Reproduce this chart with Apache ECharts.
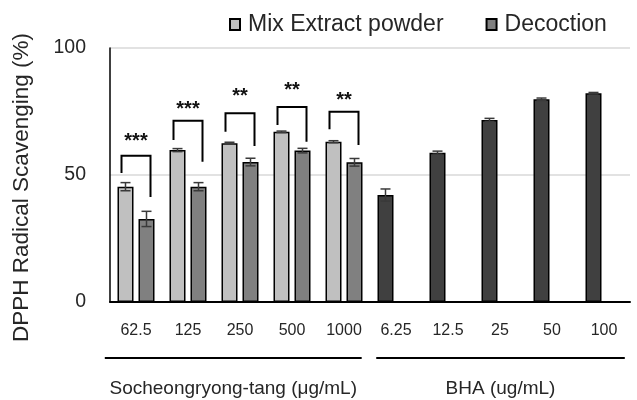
<!DOCTYPE html>
<html>
<head>
<meta charset="utf-8">
<script src="https://cdn.jsdelivr.net/npm/echarts@6/dist/echarts.min.js"></script>
<style>
html,body{margin:0;padding:0;background:#fff;}
#chart{width:637px;height:400px;}
</style>
</head>
<body>
<div id="chart"></div>
<script>
// ---- data ----
const categories = ['62.5', '125', '250', '500', '1000', '6.25', '12.5', '25', '50', '100'];
const mixValues = [45.4, 59.8, 62.5, 67.0, 63.1];
const mixErr = [1.6, 0.6, 0.4, 0.3, 0.4];
const decValues = [32.7, 45.4, 55.1, 59.6, 55.0];
const decErr = [3.0, 1.6, 1.5, 0.9, 1.5];
const bhaValues = [42.1, 58.8, 71.7, 79.8, 82.2];
const bhaErr = [2.4, 0.6, 0.6, 0.5, 0.3];
const yTicks = [0, 50, 100];
// significance brackets (values in % units)
const sigCats = [0, 1, 2, 3, 4];
const sigTop = [57.6, 71.4, 74.3, 76.8, 74.9];
const sigLeftEnd = [50.8, 63.8, 67.0, 69.7, 68.0];
const sigRightEnd = [41.3, 55.2, 61.4, 63.1, 61.8];
const sigStarY = [65.0, 77.8, 83.0, 85.4, 81.5];
const sigLabels = ['***', '***', '**', '**', '**'];
// category groups under the axis (start / end in category units)
const groupNames = ['Socheongryong-tang (\u03bcg/mL)', 'BHA (ug/mL)'];
const groupStart = [-0.6, 4.62];
const groupEnd = [4.34, 9.4];

// ---- styles ----
const FONT = '"Liberation Sans", Arial, sans-serif';
const BAR_W = 16, BAR_GAP = 5;
const C_MIX = '#c0c0c0', C_DEC = '#808080', C_BHA = '#404040';
const TXT = '#262626';

const mixSeriesData = categories.map((c, i) => {
  if (i < mixValues.length) return mixValues[i];
  return { value: bhaValues[i - mixValues.length], itemStyle: { color: C_BHA } };
});
const decSeriesData = categories.map((c, i) => i < decValues.length ? decValues[i] : '-');
const errLeftData = [];
mixValues.forEach((v, i) => errLeftData.push([i, v, mixErr[i]]));
bhaValues.forEach((v, i) => errLeftData.push([i + mixValues.length, v, bhaErr[i]]));
const errRightData = decValues.map((v, i) => [i, v, decErr[i]]);
const sigData = sigCats.map((c, i) => [c, sigTop[i], sigLeftEnd[i], sigRightEnd[i], sigStarY[i], i]);
const groupData = groupNames.map((g, i) => [0, 0, groupStart[i], groupEnd[i], i]);

function errRender(sign) {
  return function (params, api) {
    const cat = api.value(0), v = api.value(1), e = api.value(2);
    const c = api.coord([cat, v]);
    const x = c[0] + sign * (BAR_W + BAR_GAP) / 2;
    const yt = api.coord([cat, v + e])[1];
    const yb = api.coord([cat, v - e])[1];
    const hw = 5;
    const st = { stroke: '#3a3a3a', lineWidth: 1.5 };
    return {
      type: 'group',
      children: [
        { type: 'line', shape: { x1: x, y1: yt, x2: x, y2: yb }, style: st },
        { type: 'line', shape: { x1: x - hw, y1: yt, x2: x + hw, y2: yt }, style: st },
        { type: 'line', shape: { x1: x - hw, y1: yb, x2: x + hw, y2: yb }, style: st }
      ]
    };
  };
}

function sigRender(params, api) {
  const cat = api.value(0);
  const cx = api.coord([cat, 0])[0];
  const hw = 14.5;
  const yTop = api.coord([cat, api.value(1)])[1];
  const yL = api.coord([cat, api.value(2)])[1];
  const yR = api.coord([cat, api.value(3)])[1];
  const yS = api.coord([cat, api.value(4)])[1];
  const label = sigLabels[api.value(5)];
  return {
    type: 'group',
    children: [
      { type: 'polyline', shape: { points: [[cx - hw, yL], [cx - hw, yTop], [cx + hw, yTop], [cx + hw, yR]] },
        style: { stroke: '#000', lineWidth: 2, fill: null } },
      { type: 'text', style: { text: label, x: cx, y: yS + 5, align: 'center', verticalAlign: 'middle',
        fontSize: 20, fontWeight: 'bold', fontFamily: FONT, fill: '#111' } }
    ]
  };
}

function groupRender(params, api) {
  const p0 = api.coord([0, 0]);
  const band = api.size([1, 0])[0];
  const s = api.value(2), e = api.value(3);
  const x1 = p0[0] + s * band, x2 = p0[0] + e * band;
  const yLine = p0[1] + 56;
  const yText = p0[1] + 87;
  return {
    type: 'group',
    children: [
      { type: 'line', shape: { x1: x1, y1: yLine, x2: x2, y2: yLine }, style: { stroke: '#000', lineWidth: 2 } },
      { type: 'text', style: { text: groupNames[api.value(4)], x: (x1 + x2) / 2, y: yText, align: 'center',
        verticalAlign: 'middle', fontSize: 19, fontFamily: FONT, fill: TXT } }
    ]
  };
}

const chart = echarts.init(document.getElementById('chart'), null, { renderer: 'canvas' });
chart.setOption({
  animation: false,
  backgroundColor: '#fff',
  textStyle: { fontFamily: FONT },
  legend: {
    data: ['Mix Extract powder', 'Decoction'],
    left: 224, top: 8,
    itemWidth: 10, itemHeight: 11, itemGap: 42,
    icon: 'rect',
    textStyle: { fontSize: 23, color: TXT, fontFamily: FONT, padding: [0, 0, 0, 3] }
  },
  grid: { left: 110, right: 7, top: 48, bottom: 98 },
  xAxis: {
    type: 'category',
    data: categories,
    axisTick: { show: false },
    axisLine: { lineStyle: { color: '#000', width: 2 } },
    axisLabel: { interval: 0, fontSize: 16, color: TXT, margin: 21, fontFamily: FONT }
  },
  yAxis: {
    type: 'value',
    min: yTicks[0], max: yTicks[yTicks.length - 1], interval: yTicks[1] - yTicks[0],
    name: 'DPPH Radical Scavenging (%)',
    nameLocation: 'middle',
    nameGap: 77,
    nameTextStyle: { fontSize: 22.5, color: TXT, fontFamily: FONT, padding: [0, 25, 0, 0] },
    axisLine: { show: true, lineStyle: { color: '#000', width: 1.5 } },
    axisTick: { show: false },
    axisLabel: { fontSize: 19.5, color: TXT, margin: 24, fontFamily: FONT },
    splitLine: { lineStyle: { color: '#d9d9d9', width: 1.5 } }
  },
  series: [
    {
      name: 'Mix Extract powder', type: 'bar', data: mixSeriesData,
      barWidth: BAR_W, barGap: (BAR_GAP / BAR_W * 100) + '%',
      itemStyle: { color: C_MIX, borderColor: '#000', borderWidth: 1.5 }
    },
    {
      name: 'Decoction', type: 'bar', data: decSeriesData,
      barWidth: BAR_W,
      itemStyle: { color: C_DEC, borderColor: '#000', borderWidth: 1.5 }
    },
    { type: 'custom', name: 'errLeft', data: errLeftData, renderItem: errRender(-1), z: 5, clip: false },
    { type: 'custom', name: 'errRight', data: errRightData, renderItem: errRender(1), z: 5, clip: false },
    { type: 'custom', name: 'sig', data: sigData, renderItem: sigRender, z: 6, clip: false },
    { type: 'custom', name: 'groups', data: groupData, renderItem: groupRender, z: 6, clip: false }
  ]
});
</script>
</body>
</html>
